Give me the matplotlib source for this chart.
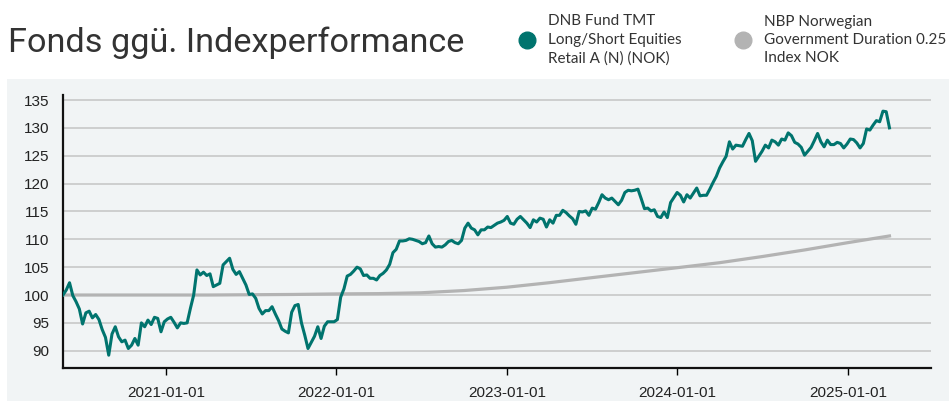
import numpy as np, pandas as pd
import matplotlib
matplotlib.use("Agg")
import matplotlib.pyplot as plt
from matplotlib.lines import Line2D
from matplotlib.patches import Rectangle

# Fonds (wöchentlich, indexiert auf 100)
fund_start = "2020-05-25"
fund_values = [
    100.0, 100.9, 102.2, 99.9, 98.8, 97.5, 94.8, 96.8, 97.1, 95.9,
    96.5, 95.6, 93.8, 92.4, 89.2, 93.0, 94.3, 92.5, 91.6, 91.9,
    90.4, 91.0, 92.2, 91.0, 95.0, 94.3, 95.5, 94.7, 96.0, 95.8,
    93.4, 95.2, 95.7, 96.0, 95.1, 94.1, 95.0, 94.9, 95.0, 97.6,
    100.0, 104.5, 103.6, 104.1, 103.5, 103.8, 101.5, 101.8, 102.1, 105.4,
    106.0, 106.6, 104.6, 103.7, 104.2, 103.0, 101.8, 100.1, 100.2, 99.4,
    97.6, 96.6, 97.2, 97.2, 97.9, 96.6, 95.4, 93.9, 93.5, 93.2,
    96.9, 98.1, 98.3, 95.0, 92.8, 90.4, 91.5, 92.6, 94.3, 92.2,
    94.4, 95.2, 95.2, 95.2, 95.6, 99.6, 101.1, 103.4, 103.7, 104.3,
    105.0, 104.7, 103.5, 103.6, 103.0, 103.0, 102.7, 103.5, 103.9, 104.5,
    105.5, 107.6, 108.2, 109.7, 109.7, 109.8, 110.1, 110.0, 109.8, 109.6,
    109.2, 109.4, 110.6, 109.2, 108.6, 108.7, 108.6, 109.0, 109.6, 109.8,
    109.4, 109.2, 109.8, 112.0, 112.9, 112.0, 111.7, 110.8, 111.7, 111.7,
    112.2, 112.1, 112.5, 112.9, 113.1, 113.4, 114.1, 112.9, 112.7, 113.6,
    114.1, 113.5, 112.9, 112.1, 113.5, 113.1, 113.8, 113.6, 112.2, 113.5,
    112.9, 114.3, 114.3, 115.2, 114.8, 114.2, 113.7, 112.7, 115.0, 114.9,
    115.1, 114.3, 115.6, 115.4, 116.6, 118.0, 117.4, 117.1, 117.4, 116.8,
    116.2, 117.0, 118.4, 118.8, 118.7, 118.8, 119.0, 117.3, 115.5, 115.6,
    115.1, 115.3, 114.1, 113.9, 114.9, 113.9, 116.6, 117.5, 118.4, 117.9,
    116.7, 118.0, 117.4, 118.3, 119.2, 117.8, 117.9, 117.9, 119.0, 120.2,
    121.3, 122.8, 123.9, 124.9, 127.5, 126.2, 126.9, 126.8, 126.7, 127.9,
    129.0, 127.7, 124.0, 124.9, 125.8, 126.9, 126.4, 127.8, 127.5, 126.9,
    128.0, 127.8, 129.1, 128.6, 127.4, 127.1, 126.5, 125.1, 125.8, 126.5,
    127.7, 129.0, 127.5, 126.6, 127.8, 127.0, 127.0, 127.4, 127.2, 126.4,
    127.1, 128.0, 127.9, 127.3, 126.4, 127.2, 129.8, 129.6, 130.5, 131.3,
    131.1, 133.0, 132.9, 130.0,
]

# Index (quartalsweise)
index_dates = ["2020-05-25", "2020-07-01", "2020-10-01", "2021-01-01", "2021-04-01",
               "2021-07-01", "2021-10-01", "2022-01-01", "2022-04-01", "2022-07-01",
               "2022-10-01", "2023-01-01", "2023-04-01", "2023-07-01", "2023-10-01",
               "2024-01-01", "2024-04-01", "2024-07-01", "2024-10-01", "2025-01-01",
               "2025-03-31"]
index_values = [100.0, 100.0, 100.0, 100.0, 100.0,
                100.05, 100.1, 100.2, 100.25, 100.4,
                100.8, 101.4, 102.2, 103.1, 104.0,
                104.9, 105.8, 106.9, 108.1, 109.4,
                110.6]

fund_name = "DNB Fund TMT\nLong/Short Equities\nRetail A (N) (NOK)"
index_name = "NBP Norwegian\nGovernment Duration 0.25\nIndex NOK"
title = "Fonds ggü. Indexperformance"
yticks = [90, 95, 100, 105, 110, 115, 120, 125, 130, 135]
xticks = ["2021-01-01", "2022-01-01", "2023-01-01", "2024-01-01", "2025-01-01"]

TEAL = "#00746e"
GREY = "#b3b3b3"
PANEL = "#f1f4f5"

fund = pd.Series(fund_values, index=pd.date_range(fund_start, periods=len(fund_values), freq="7D"))
idx = pd.Series(index_values, index=pd.to_datetime(index_dates))

fig = plt.figure(figsize=(9.49, 4.01), dpi=100)
fig.patches.append(Rectangle((7/949, 0), 942/949, 322/401, transform=fig.transFigure,
                             facecolor=PANEL, edgecolor="none", zorder=-5))

ax = fig.add_axes([63/949, 33/401, 868/949, 273/401])
ax.set_zorder(2)
ax.set_facecolor("none")
ax.plot(idx.index, idx.values, color=GREY, lw=2.3, zorder=3)
ax.plot(fund.index, fund.values, color=TEAL, lw=2.2, zorder=4)

ax.set_ylim(86.9, 135.9)
ax.set_xlim(pd.Timestamp("2020-05-25"), pd.Timestamp("2025-06-28"))
ax.set_yticks(yticks)
ax.set_xticks(pd.to_datetime(xticks))
ax.set_xticklabels(xticks)
ax.yaxis.grid(True, color="#c8c8c8", lw=1.2)
ax.set_axisbelow(True)
for s in ["top", "right"]:
    ax.spines[s].set_visible(False)
for s in ["left", "bottom"]:
    ax.spines[s].set_linewidth(1.6)
    ax.spines[s].set_color("#111111")
ax.tick_params(axis="y", length=0, pad=10, labelsize=11, labelcolor="#222222")
ax.tick_params(axis="x", length=5, width=1, pad=8, labelsize=11, labelcolor="#222222")
for lbl in ax.get_xticklabels() + ax.get_yticklabels():
    lbl.set_fontfamily("Liberation Sans")

fig.text(8/949, 1 - 52/401, title, fontsize=24.7, family="Roboto", color="#333333")

# Legende: zwei Einträge, separat platziert
for color, name, x0 in [(TEAL, fund_name, 519), (GREY, index_name, 735)]:
    h = Line2D([], [], ls="", marker="o", ms=12, color=color)
    leg = fig.legend([h], [name], frameon=False, loc="center left",
                     bbox_to_anchor=(x0/949, 1 - 40/401),
                     prop={"family": "Lato", "size": 11}, handletextpad=0.9,
                     handlelength=1.0, borderpad=0, borderaxespad=0)
    for t in leg.get_texts():
        t.set_linespacing(1.4)
        t.set_color("#333333")

fig.savefig("out.png", dpi=100)
